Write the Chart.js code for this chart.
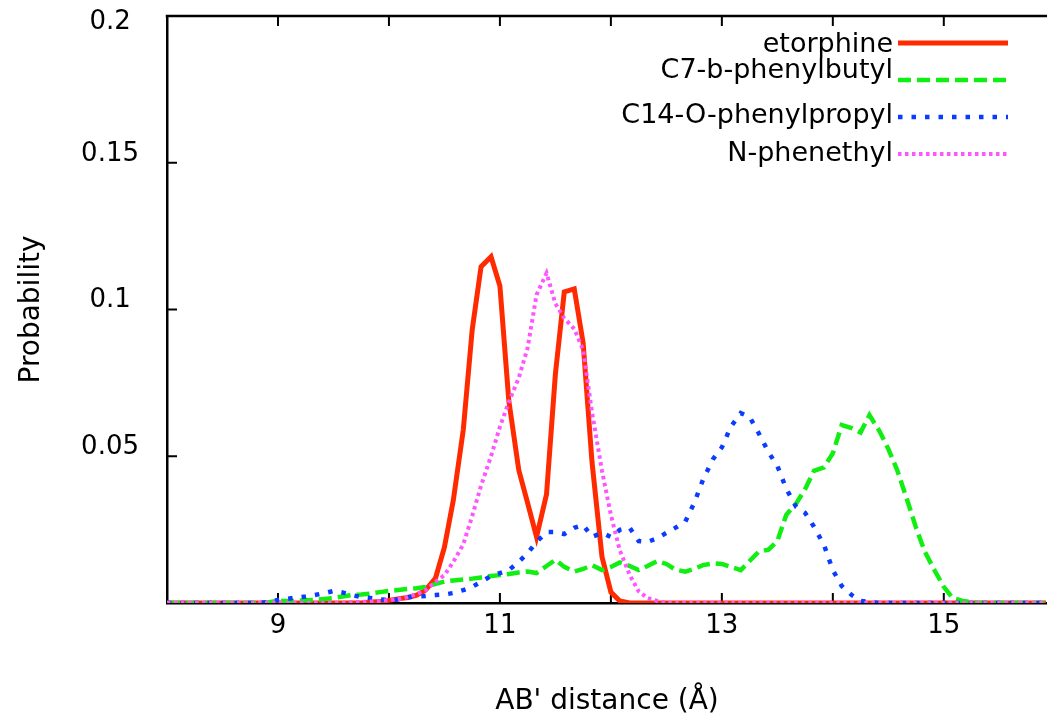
<!DOCTYPE html>
<html><head><meta charset="utf-8">
<script src="https://cdn.jsdelivr.net/npm/chart.js@4/dist/chart.umd.min.js"></script>
<style>html,body{margin:0;padding:0;background:#fff;} canvas{display:block;}</style>
</head><body>
<canvas id="c" width="1047" height="722"></canvas>
<script>
// AB' distance bins (Å)
const distance = [
 8.00, 8.08, 8.17, 8.25, 8.33, 8.42, 8.50, 8.58, 8.67, 8.75, 8.83, 8.92,
 9.00, 9.08, 9.17, 9.25, 9.33, 9.42, 9.50, 9.58, 9.67, 9.75, 9.83, 9.92,
 10.00,10.08,10.17,10.25,10.33,10.42,10.50,10.58,10.67,10.75,10.83,10.92,
 11.00,11.08,11.17,11.25,11.33,11.42,11.50,11.58,11.67,11.75,11.83,11.92,
 12.00,12.08,12.17,12.25,12.33,12.42,12.50,12.58,12.67,12.75,12.83,12.92,
 13.00,13.08,13.17,13.25,13.33,13.42,13.50,13.58,13.67,13.75,13.83,13.92,
 14.00,14.08,14.17,14.25,14.33,14.42,14.50,14.58,14.67,14.75,14.83,14.92,
 15.00,15.08,15.17,15.25,15.33,15.42,15.50,15.58,15.67,15.75,15.83,15.92
];
const etorphine = [
 0,0,0,0,0,0,0,0,0,0,0,0,
 0,0,0,0,0,0,0,0,0,0,0.0003,0.0005,
 0.0009,0.0014,0.0019,0.0027,0.0044,0.0085,0.019,0.035,0.059,0.093,0.1146,0.118,
 0.108,0.069,0.0453,0.034,0.0225,0.037,0.078,0.106,0.107,0.0886,0.048,0.0157,
 0.0037,0.0007,0,0,0,0,0,0,0,0,0,0,
 0,0,0,0,0,0,0,0,0,0,0,0,
 0,0,0,0,0,0,0,0,0,0,0,0,
 0,0,0,0,0,0,0,0,0,0,0,0
];
const c7Phenylbutyl = [
 0,0,0,0,0,0,0,0,0,0,0,0.0003,
 0.0007,0.0007,0.0007,0.0009,0.001,0.0014,0.0017,0.0022,0.0027,0.0029,0.0032,0.0037,
 0.0041,0.0044,0.0048,0.005,0.0055,0.0065,0.0073,0.0077,0.008,0.0083,0.0087,0.0092,
 0.0095,0.0099,0.0104,0.0107,0.0102,0.0126,0.0147,0.0123,0.0107,0.0116,0.0129,0.0112,
 0.0123,0.0138,0.0126,0.0112,0.0126,0.0143,0.0133,0.0114,0.0107,0.0116,0.0129,0.0135,
 0.0133,0.0123,0.0112,0.0143,0.0174,0.0182,0.0211,0.030,0.0339,0.0388,0.045,0.0462,
 0.051,0.0606,0.0596,0.0581,0.064,0.0586,0.0525,0.0453,0.0351,0.0256,0.0174,0.0109,
 0.0055,0.0017,0.0007,0.0003,0,0,0,0,0,0,0,0
];
const c14Phenylpropyl = [
 0,0,0,0,0,0,0,0,0,0,0,0.0004,
 0.001,0.0014,0.0019,0.0022,0.0027,0.0034,0.0041,0.0036,0.0027,0.002,0.0017,0.0012,
 0.001,0.0012,0.002,0.0022,0.0024,0.0027,0.0029,0.0034,0.0044,0.0055,0.0072,0.0092,
 0.0102,0.0112,0.014,0.017,0.0208,0.0242,0.0242,0.0235,0.0256,0.0266,0.0225,0.0239,
 0.0225,0.0249,0.0256,0.0211,0.0208,0.0221,0.0239,0.0256,0.0277,0.034,0.042,0.049,
 0.053,0.060,0.0647,0.0634,0.058,0.0514,0.0467,0.039,0.0327,0.0307,0.026,0.0198,
 0.0112,0.0058,0.0027,0.0007,0.0003,0,0,0,0,0,0,0,
 0,0,0,0,0,0,0,0,0,0,0,0
];
const nPhenethyl = [
 0,0,0,0,0,0,0,0,0,0,0,0,
 0,0,0,0,0,0,0,0,0.0003,0.0004,0.0005,0.0007,
 0.001,0.0013,0.002,0.003,0.0044,0.0072,0.0095,0.014,0.020,0.0296,0.040,0.050,
 0.060,0.0685,0.0767,0.087,0.105,0.1124,0.102,0.097,0.0934,0.0862,0.065,0.045,
 0.030,0.018,0.0095,0.004,0.0017,0.0007,0,0,0,0,0,0,
 0,0,0,0,0,0,0,0,0,0,0,0,
 0,0,0,0,0,0,0,0,0,0,0,0,
 0,0,0,0,0,0,0,0,0,0,0,0
];
const seriesLabels = ['etorphine', 'C7-b-phenylbutyl', 'C14-O-phenylpropyl', 'N-phenethyl'];
const xTickLabels = [9, 11, 13, 15];
const yTickLabels = [0.05, 0.1, 0.15, 0.2];

const FONT = 'DejaVu Sans';
const toPoints = arr => distance.map((d, i) => ({ x: d, y: arr[i] }));

const styles = [
  { color: '#ff2a00', dash: [], width: 5, order: 3 },
  { color: '#11ee11', dash: [13, 6], width: 4.5, order: 2 },
  { color: '#0a3cff', dash: [4.5, 9], width: 4.5, order: 1 },
  { color: '#ff55ff', dash: [3.5, 3.5], width: 4, order: 0 }
];
const seriesData = [etorphine, c7Phenylbutyl, c14Phenylpropyl, nPhenethyl];

const datasets = seriesData.map((arr, i) => ({
  label: seriesLabels[i],
  data: toPoints(arr),
  borderColor: styles[i].color,
  backgroundColor: styles[i].color,
  borderWidth: styles[i].width,
  borderDash: styles[i].dash,
  borderCapStyle: 'butt',
  borderJoinStyle: 'miter',
  pointRadius: 0,
  tension: 0,
  fill: false,
  order: styles[i].order
}));

const framePlugin = {
  id: 'frame',
  beforeDatasetsDraw(chart) {
    const { ctx, chartArea: a, scales: { x, y } } = chart;
    ctx.save();
    ctx.strokeStyle = '#000';
    ctx.lineWidth = 2.5;
    ctx.beginPath();
    ctx.moveTo(a.left - 1.25, a.top);
    ctx.lineTo(a.right, a.top);
    ctx.stroke();
    ctx.lineWidth = 2;
    const seg = (x1, y1, x2, y2) => { ctx.beginPath(); ctx.moveTo(x1, y1); ctx.lineTo(x2, y2); ctx.stroke(); };
    x.ticks.forEach(t => {
      if (Number.isInteger(t.value) && t.value > x.min && t.value < x.max) {
        const px = x.getPixelForValue(t.value);
        seg(px, a.bottom, px, a.bottom - 10);
        seg(px, a.top, px, a.top + 10);
      }
    });
    y.ticks.forEach(t => {
      if (t.value > 0.0001 && t.value < 0.1999) {
        const py = y.getPixelForValue(t.value);
        seg(a.left, py, a.left + 10, py);
      }
    });
    ctx.restore();
  }
};

const legendPlugin = {
  id: 'gpLegend',
  afterDatasetsDraw(chart) {
    const ctx = chart.ctx;
    const lineY = [43, 80, 117, 154];
    const textY = [52, 78, 123, 161];
    const textRight = 893, x1 = 898, x2 = 1008;
    ctx.save();
    ctx.font = '27px "' + FONT + '"';
    ctx.textAlign = 'right';
    ctx.textBaseline = 'alphabetic';
    chart.data.datasets.forEach((ds, i) => {
      ctx.fillStyle = '#000';
      ctx.fillText(ds.label, textRight, textY[i]);
      ctx.strokeStyle = ds.borderColor;
      ctx.lineWidth = ds.borderWidth;
      ctx.lineCap = 'butt';
      ctx.setLineDash(ds.borderDash);
      ctx.beginPath();
      ctx.moveTo(x1, lineY[i]);
      ctx.lineTo(x2, lineY[i]);
      ctx.stroke();
    });
    ctx.restore();
  }
};

new Chart(document.getElementById('c'), {
  type: 'line',
  data: { datasets },
  plugins: [framePlugin, legendPlugin],
  options: {
    responsive: false,
    animation: false,
    devicePixelRatio: 1,
    layout: { padding: { top: 16, right: 0, bottom: 0, left: 0 } },
    plugins: { legend: { display: false }, tooltip: { enabled: false } },
    scales: {
      x: {
        type: 'linear',
        min: 8,
        max: 15.93,
        grid: { display: false },
        border: { display: true, color: '#000', width: 2.5 },
        ticks: {
          stepSize: 1,
          includeBounds: false,
          autoSkip: false,
          maxRotation: 0,
          padding: 0,
          color: '#000',
          font: { family: FONT, size: 26 },
          callback: v => xTickLabels.includes(v) ? String(v) : ''
        },
        title: {
          display: true,
          text: "AB' distance (Å)",
          color: '#000',
          font: { family: FONT, size: 28 },
          padding: { top: 0, bottom: 3 }
        },
        afterFit: s => { s.height = 119; }
      },
      y: {
        type: 'linear',
        min: 0,
        max: 0.2,
        grid: { display: false },
        border: { display: true, color: '#000', width: 2.5 },
        ticks: {
          stepSize: 0.05,
          crossAlign: 'center',
          padding: 20,
          labelOffset: -9,
          color: '#000',
          font: { family: FONT, size: 26 },
          callback: v => {
            const r = Math.round(v * 100) / 100;
            if (!yTickLabels.includes(r)) return '';
            // top label sits just below the frame, as in the original
            return r === 0.2 ? ['', String(r)] : String(r);
          }
        },
        title: {
          display: true,
          text: 'Probability',
          color: '#000',
          font: { family: FONT, size: 28 },
          padding: { top: 15, bottom: 0 }
        },
        afterFit: s => { s.width = 167; s.paddingTop = 0; s.paddingBottom = 0; }
      }
    }
  }
});
</script>
</body></html>
